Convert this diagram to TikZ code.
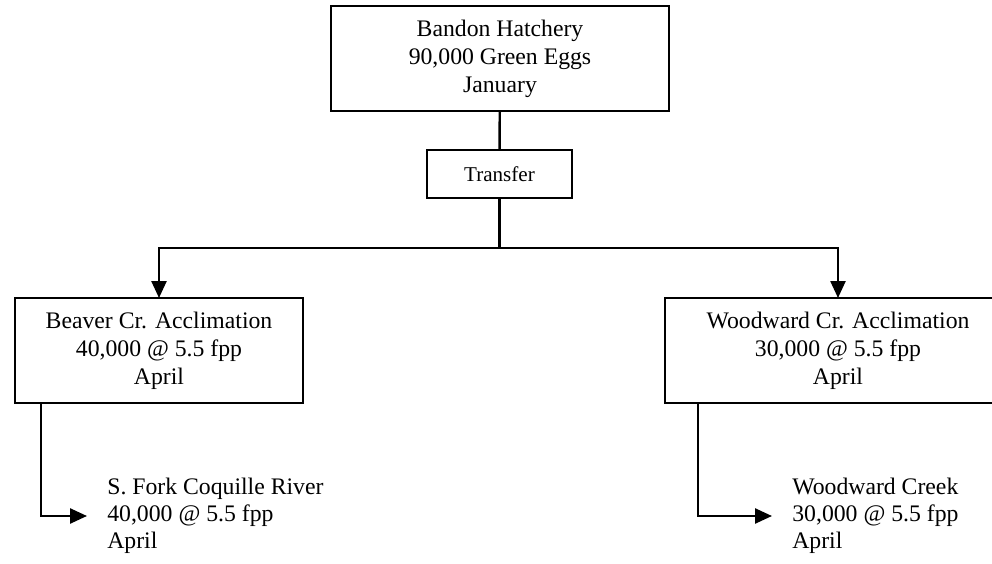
\documentclass[tikz,border=0pt]{standalone}
\usepackage{fontspec}
\setmainfont{Liberation Serif}
\usetikzlibrary{arrows.meta}
\tikzset{
	box/.style={draw, line width=1.5pt, align=center, inner sep=0pt, outer sep=0pt,
		font=\fontsize{13.5}{16}\selectfont},
	leaf/.style={anchor=west, align=left, inner sep=0pt,
		font=\fontsize{13.5}{15.5}\selectfont},
	link/.style={line width=1.4pt},
	flow/.style={line width=1.4pt, -{Triangle[length=0.34cm, width=0.3cm]}}
}

\begin{document}
\begin{tikzpicture}[x=0.02cm, y=-0.02cm]
		%%%%% START %%%%%
		
		\clip (0, 0) rectangle (992, 564);
		
		\node[box, minimum width=6.76cm, minimum height=2.1cm] (hatchery) at (500, 58.5) {Bandon Hatchery\\90,000 Green Eggs\\January};
		\node[box, minimum width=2.9cm, minimum height=0.96cm, font=\fontsize{12}{14}\selectfont] (transfer) at (499.5, 174) {Transfer};
		\coordinate (split) at (499.5, 248);
		
		\node[box, minimum width=5.76cm, minimum height=2.1cm] (beaver) at (159, 350.5) {Beaver Cr. Acclimation\\40,000 @ 5.5 fpp\\April};
		\node[box, minimum width=6.92cm, minimum height=2.1cm] (woodward) at (838, 350.5) {Woodward Cr. Acclimation\\30,000 @ 5.5 fpp\\April};
		
		\node[leaf] (fork) at (107, 516) {S. Fork Coquille River\\40,000 @ 5.5 fpp\\April};
		\node[leaf] (creek) at (792, 516) {Woodward Creek\\30,000 @ 5.5 fpp\\April};
		
		\draw[link] (hatchery) -- (transfer);
		\draw[link] (transfer) -- (split);
		\draw[flow] (split) -| (beaver);
		\draw[flow] (split) -| (woodward);
		
		\draw[flow, shorten >=0.4cm] ([xshift=0.52cm]beaver.south west) |- (fork.west);
		\draw[flow, shorten >=0.4cm] ([xshift=0.66cm]woodward.south west) |- (creek.west);
		
		%%%%% END %%%%%
	\end{tikzpicture}
\end{document}
